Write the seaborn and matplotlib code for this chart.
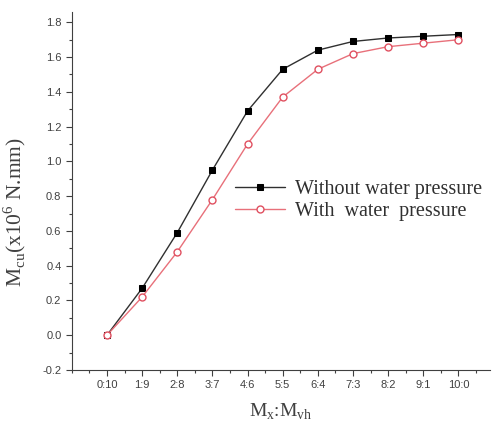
import numpy as np
import pandas as pd
import matplotlib
matplotlib.use("Agg")
import matplotlib.pyplot as plt
from matplotlib.ticker import AutoMinorLocator, MultipleLocator
import seaborn as sns

# values
ratios = ["0:10", "1:9", "2:8", "3:7", "4:6", "5:5", "6:4", "7:3", "8:2", "9:1", "10:0"]
without_wp = [0.0, 0.27, 0.59, 0.95, 1.29, 1.53, 1.64, 1.69, 1.71, 1.72, 1.73]
with_wp = [0.0, 0.22, 0.48, 0.78, 1.10, 1.37, 1.53, 1.62, 1.66, 1.68, 1.70]

sns.set_style("ticks")
plt.rcParams['font.family'] = ['Liberation Sans', 'DejaVu Sans']

df = pd.DataFrame({"idx": np.arange(len(ratios)), "without": without_wp, "with": with_wp})

fig = plt.figure(figsize=(4.92, 4.33), dpi=100)
ax = fig.add_axes([0.146, 0.1455, 0.85, 0.827])

sns.lineplot(data=df, x="idx", y="without", ax=ax, color="#303030", lw=1.0,
             marker="s", markersize=5, markerfacecolor="black", markeredgecolor="black",
             label="Without water pressure")
sns.lineplot(data=df, x="idx", y="with", ax=ax, color="#e8707a", lw=1.0,
             marker="o", markersize=5, markerfacecolor="white", markeredgecolor="#e05060",
             markeredgewidth=1.0, label="With  water  pressure")

ax.set_xlim(-1, 10.9)
ax.set_ylim(-0.2, 1.86)
ax.set_xticks(np.arange(len(ratios)))
ax.set_xticklabels(ratios)
ax.yaxis.set_major_locator(MultipleLocator(0.2))
ax.yaxis.set_minor_locator(AutoMinorLocator(2))
ax.xaxis.set_minor_locator(AutoMinorLocator(2))
ax.yaxis.set_major_formatter(matplotlib.ticker.FormatStrFormatter("%.1f"))

for s in ["top", "right"]:
    ax.spines[s].set_visible(False)
for s in ["left", "bottom"]:
    ax.spines[s].set_color("#404040")
ax.tick_params(axis="both", which="major", labelsize=8, colors="#404040", length=4, width=0.8)
ax.tick_params(axis="both", which="minor", length=2.5, width=0.8, color="#404040")

serif = ['Liberation Serif', 'DejaVu Serif']
ax.set_xlabel(r"M$_{\mathregular{x}}$:M$_{\mathregular{vh}}$", family=serif, fontsize=14, color="#404040", labelpad=8)
ax.set_ylabel(r"M$_{\mathregular{cu}}$(x10$^{\mathregular{6}}$ N.mm)", family=serif, fontsize=15.5, color="#404040")
ax.yaxis.set_label_coords(-0.105, 0.44)

leg = ax.legend(loc="upper left", bbox_to_anchor=(0.366, 0.56), frameon=False, borderpad=0,
                prop={"family": serif, "size": 14.5}, handlelength=2.5, handletextpad=0.5,
                labelspacing=0.15)
for t in leg.get_texts():
    t.set_color("#303030")

fig.savefig("out.png", dpi=100)
